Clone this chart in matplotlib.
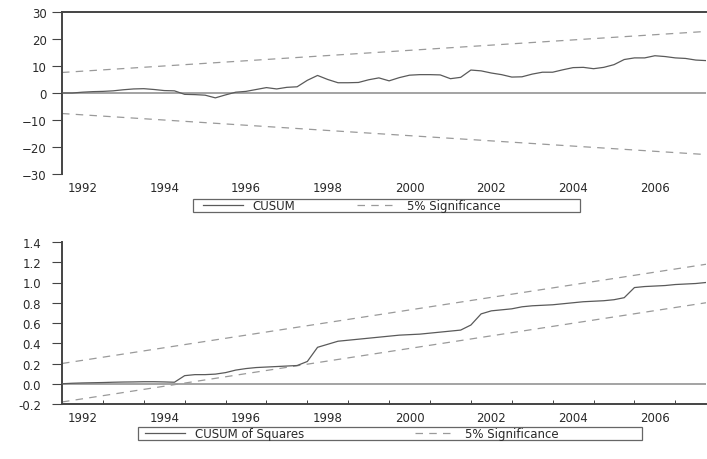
#!/usr/bin/env python3
"""
CUSUM and CUSUM of squares stability tests (quarterly, 1992Q1-2007Q4),
drawn in the grey EViews look of the reference.
"""

import matplotlib
matplotlib.use('Agg')
import matplotlib.pyplot as plt
from matplotlib.patches import Rectangle
from matplotlib.ticker import FixedLocator, FormatStrFormatter
import pandas as pd

# Observation dates (recursive residuals)
QUARTERS = pd.period_range('1992Q1', '2007Q4', freq='Q')

# CUSUM statistic
CUSUM = [
    0.0, 0.0, 0.3, 0.5, 0.6, 0.8, 1.2, 1.5, 1.6, 1.3,
    0.9, 0.8, -0.5, -0.6, -0.8, -1.8, -0.7, 0.3, 0.6, 1.3,
    2.0, 1.5, 2.1, 2.3, 4.7, 6.5, 5.0, 3.8, 3.8, 3.9,
    4.9, 5.6, 4.5, 5.7, 6.6, 6.8, 6.8, 6.7, 5.3, 5.8,
    8.5, 8.2, 7.4, 6.8, 5.9, 6.0, 7.0, 7.7, 7.7, 8.6,
    9.4, 9.5, 9.0, 9.5, 10.5, 12.4, 13.0, 13.0, 13.8, 13.5,
    13.0, 12.8, 12.2, 12.0,
]
# 5% bounds: value at first and last observation
CUSUM_UPPER = [7.6, 22.8]
CUSUM_LOWER = [-7.6, -22.8]

# CUSUM of squares
CUSUMSQ = [
    0.0, 0.005, 0.008, 0.01, 0.012, 0.015, 0.017, 0.018, 0.02, 0.02,
    0.018, 0.015, 0.08, 0.09, 0.09, 0.095, 0.11, 0.135, 0.15, 0.16,
    0.165, 0.17, 0.175, 0.18, 0.22, 0.36, 0.39, 0.42, 0.43, 0.44,
    0.45, 0.46, 0.47, 0.48, 0.485, 0.49, 0.50, 0.51, 0.52, 0.53,
    0.58, 0.69, 0.72, 0.73, 0.74, 0.76, 0.77, 0.775, 0.78, 0.79,
    0.80, 0.81, 0.815, 0.82, 0.83, 0.85, 0.95, 0.96, 0.965, 0.97,
    0.98, 0.985, 0.99, 1.0,
]
CUSUMSQ_UPPER = [0.20, 1.18]
CUSUMSQ_LOWER = [-0.18, 0.80]

YEAR_LABELS = ['1992', '1994', '1996', '1998', '2000', '2002', '2004', '2006']

LINE_COLOR = '#5a5a5a'
BAND_COLOR = '#9a9a9a'
AXIS_COLOR = '#444444'
TEXT_COLOR = '#2a2a2a'
DASH = (0, (6, 5))
FONT_SIZE = 8.5
W, H = 707, 460


def style_axes(ax, x0, x1, keep):
    """EViews-like frame: only the spines listed in `keep` are drawn."""
    for side, sp in ax.spines.items():
        sp.set_visible(side in keep)
        sp.set_color(AXIS_COLOR)
        sp.set_linewidth(1.4)
    ax.set_xlim(x0, x1)
    # year labels sit in the middle of each year, ticks at year starts
    ax.xaxis.set_major_locator(FixedLocator([int(y) + 0.5 for y in YEAR_LABELS]))
    ax.set_xticklabels(YEAR_LABELS)
    ax.xaxis.set_minor_locator(FixedLocator(list(range(int(x0), int(x1) + 1))))
    ax.tick_params(axis='x', which='major', length=0, pad=5,
                   labelsize=FONT_SIZE, labelcolor=TEXT_COLOR)
    ax.tick_params(axis='y', which='major', direction='out', length=7,
                   width=0.8, color=AXIS_COLOR, pad=4,
                   labelsize=FONT_SIZE, labelcolor=TEXT_COLOR)


def boxed_legend(fig, entries, box):
    """One legend per entry, placed at its own pixel x, inside a plain box."""
    left, top, right, bottom = box
    yc = 1 - (top + bottom) / 2 / H
    for handle, label, xpix in entries:
        fig.legend([handle], [label], loc='center left',
                   bbox_to_anchor=(xpix / W, yc), bbox_transform=fig.transFigure,
                   frameon=False, fontsize=FONT_SIZE, handlelength=3.4,
                   handletextpad=0.8, borderpad=0, borderaxespad=0,
                   labelcolor=TEXT_COLOR)
    fig.add_artist(Rectangle((left / W, 1 - bottom / H), (right - left) / W,
                             (bottom - top) / H, transform=fig.transFigure,
                             fill=False, edgecolor='#666666', linewidth=0.9))


def main():
    x = [q.year + (q.quarter - 1) / 4 for q in QUARTERS]
    ends = [x[0], x[-1]]

    fig = plt.figure(figsize=(W / 100, H / 100), dpi=100)

    # CUSUM panel
    ax1 = fig.add_axes([62 / W, 1 - 175 / H, 644 / W, 162 / H])
    ax1.axhline(0, color='#9c9c9c', linewidth=1.3, zorder=1)
    l_cusum, = ax1.plot(x, CUSUM, color=LINE_COLOR, linewidth=0.9, zorder=3)
    l_sig, = ax1.plot(ends, CUSUM_UPPER, color=BAND_COLOR, linewidth=0.9,
                      linestyle=DASH, zorder=2)
    ax1.plot(ends, CUSUM_LOWER, color=BAND_COLOR, linewidth=0.9,
             linestyle=DASH, zorder=2)
    ax1.set_ylim(-30, 30)
    ax1.set_yticks([-30, -20, -10, 0, 10, 20, 30])
    style_axes(ax1, x[0], x[-1], keep=('top', 'left'))
    ax1.tick_params(axis='x', which='minor', length=0)

    boxed_legend(fig, [(l_cusum, 'CUSUM', 203), (l_sig, '5% Significance', 357)],
                 box=(193, 200, 580, 213))

    # CUSUM of squares panel
    ax2 = fig.add_axes([62 / W, 1 - 405 / H, 644 / W, 162 / H])
    ax2.axhline(0, color='#9c9c9c', linewidth=1.3, zorder=1)
    l_sq, = ax2.plot(x, CUSUMSQ, color=LINE_COLOR, linewidth=0.9, zorder=3)
    l_sig2, = ax2.plot(ends, CUSUMSQ_UPPER, color=BAND_COLOR, linewidth=0.9,
                       linestyle=DASH, zorder=2)
    ax2.plot(ends, CUSUMSQ_LOWER, color=BAND_COLOR, linewidth=0.9,
             linestyle=DASH, zorder=2)
    ax2.set_ylim(-0.2, 1.4)
    ax2.set_yticks([-0.2, 0.0, 0.2, 0.4, 0.6, 0.8, 1.0, 1.2, 1.4])
    ax2.yaxis.set_major_formatter(FormatStrFormatter('%.1f'))
    style_axes(ax2, x[0], x[-1], keep=('bottom', 'left'))
    ax2.tick_params(axis='x', which='minor', direction='in', length=3,
                    width=0.7, color=AXIS_COLOR)
    ax2.tick_params(axis='y', pad=8)

    boxed_legend(fig, [(l_sq, 'CUSUM of Squares', 145), (l_sig2, '5% Significance', 415)],
                 box=(138, 428, 642, 441))

    fig.savefig('out.png', dpi=100, facecolor='white')


if __name__ == '__main__':
    main()
